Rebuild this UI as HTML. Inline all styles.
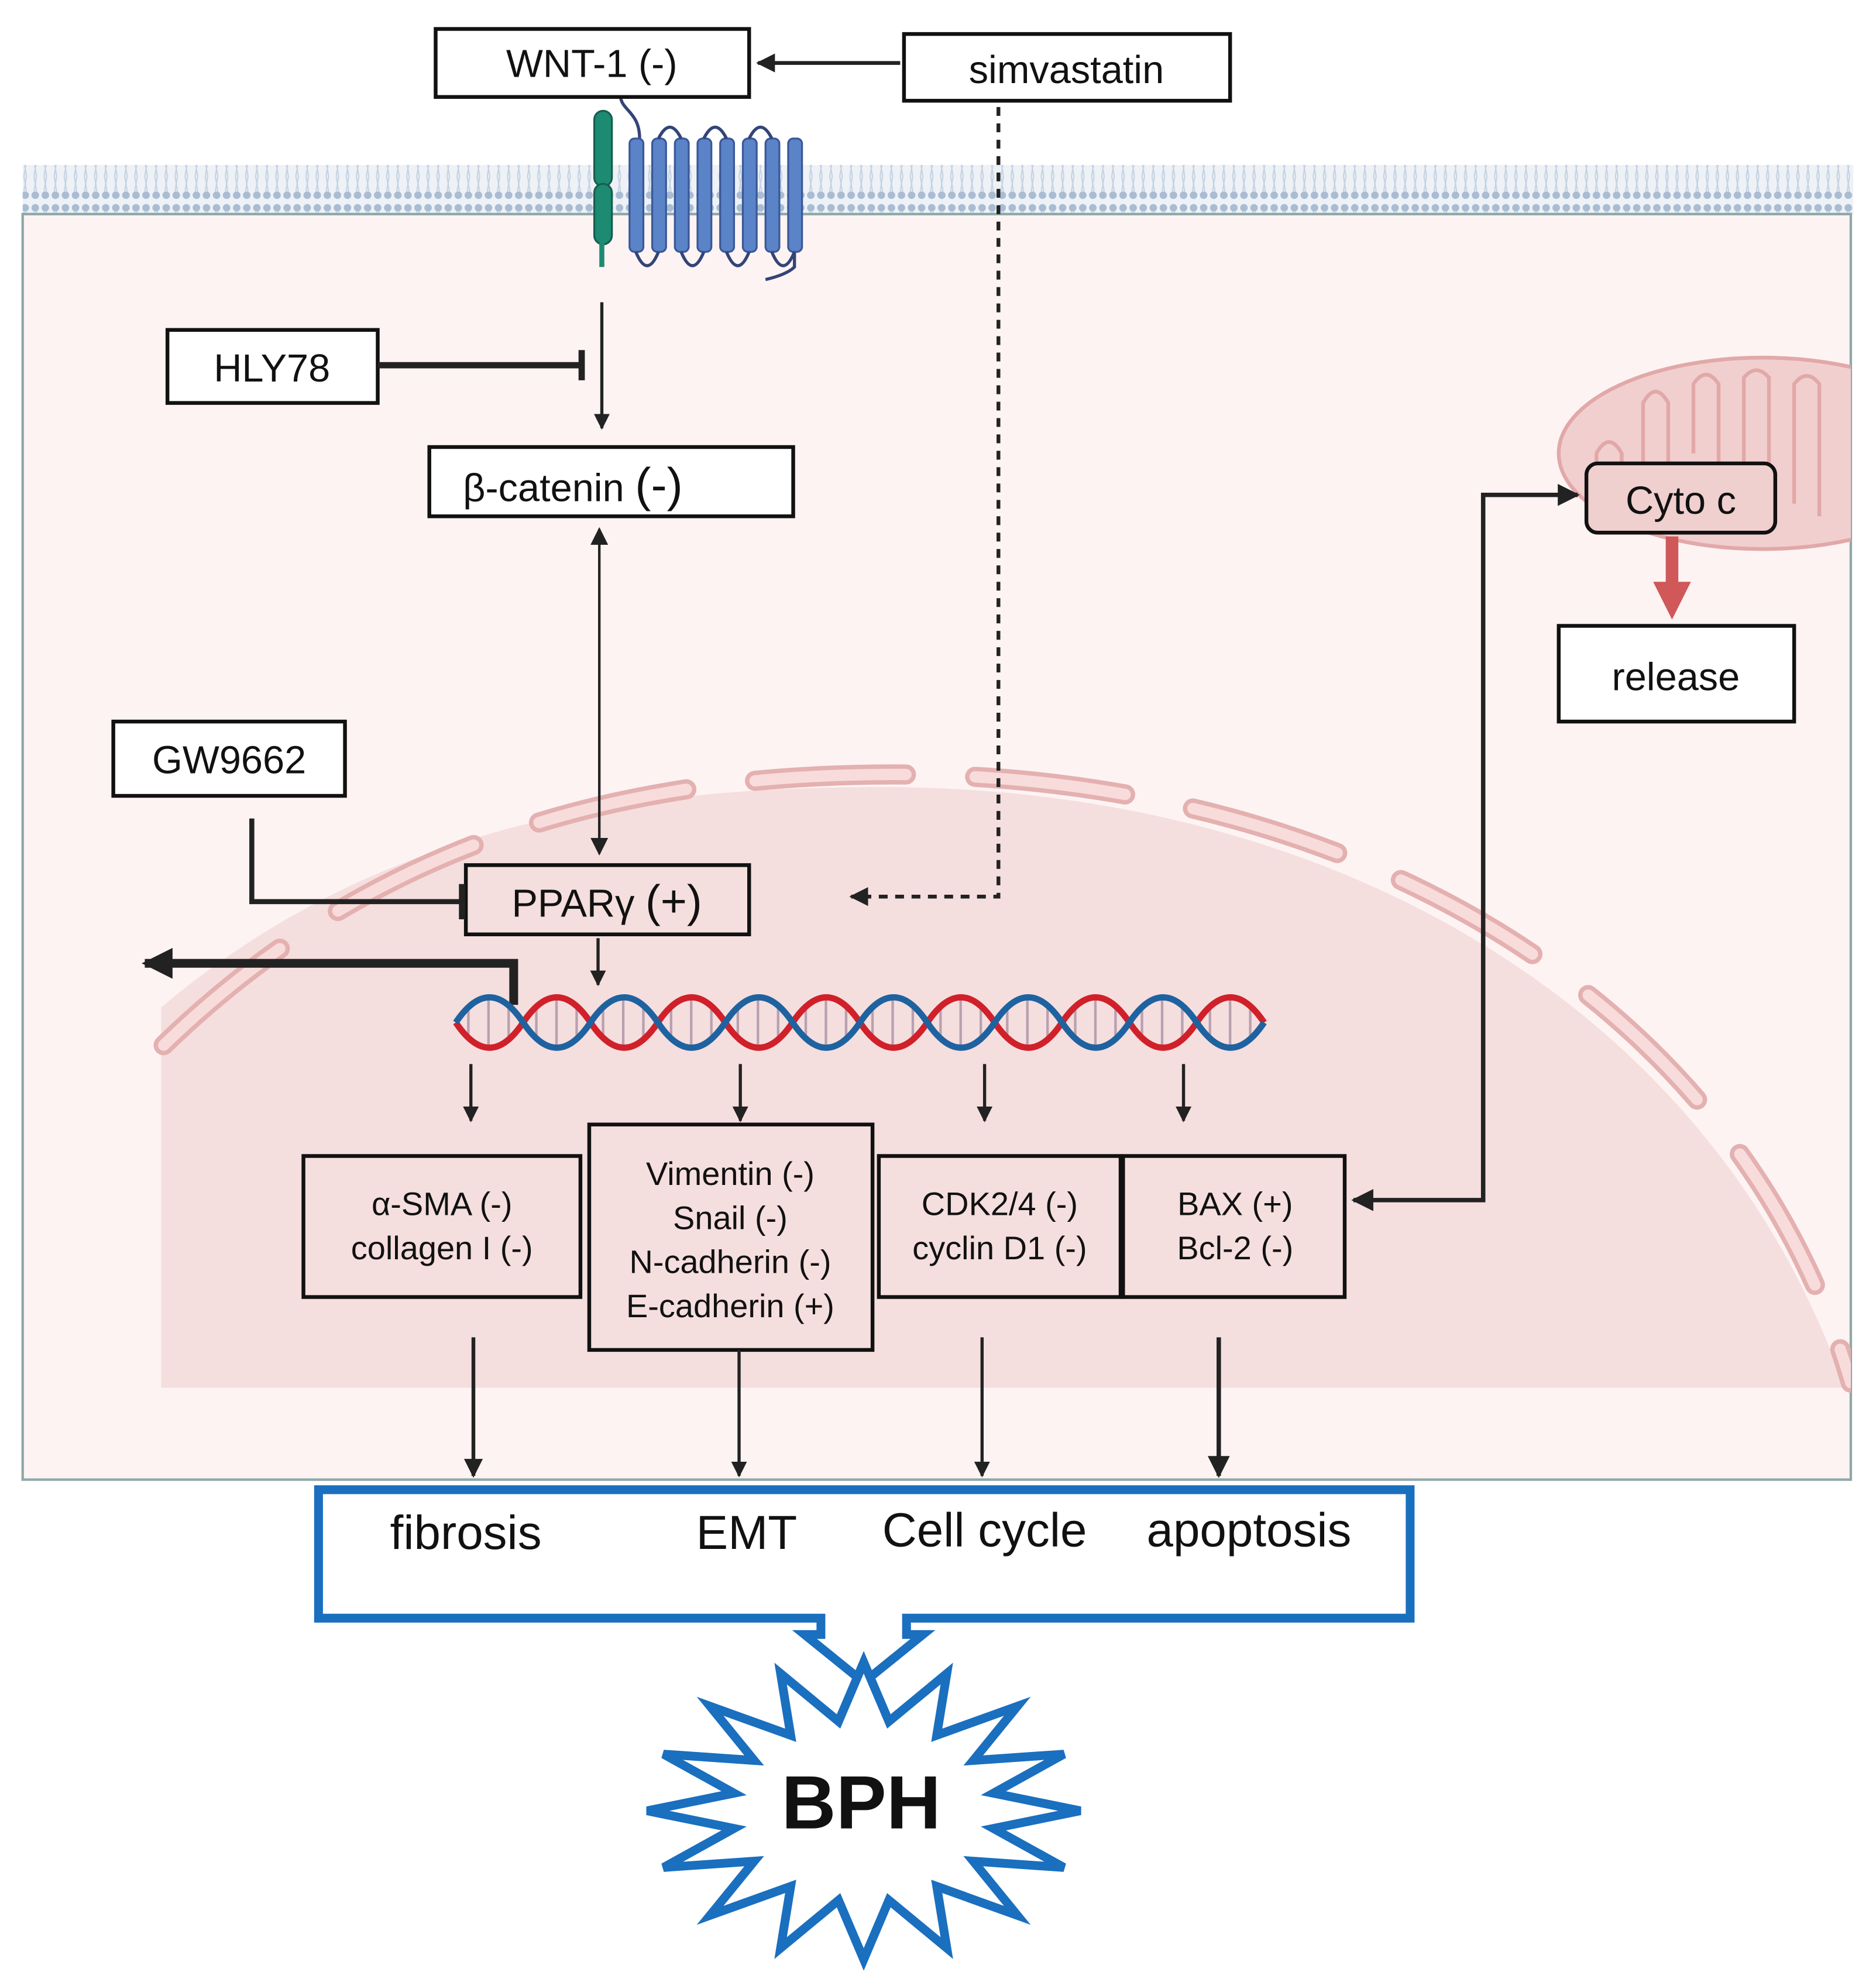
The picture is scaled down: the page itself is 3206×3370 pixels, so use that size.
<!DOCTYPE html>
<html><head><meta charset="utf-8"><style>
html,body{margin:0;padding:0;background:#fff}
svg{display:block}
text{font-family:"Liberation Sans",Arial,sans-serif;fill:#111}
</style></head><body>
<svg width="3206" height="3370" viewBox="0 0 1490 1566" preserveAspectRatio="none" xmlns="http://www.w3.org/2000/svg">
<defs>
<marker id="ah" viewBox="0 0 10 10" refX="9" refY="5" markerWidth="5" markerHeight="5" orient="auto-start-reverse" markerUnits="strokeWidth"><path d="M0,0 L10,5 L0,10 z" fill="#222"/></marker>
<marker id="ahs" viewBox="0 0 10 10" refX="9" refY="5" markerWidth="7" markerHeight="7" orient="auto-start-reverse" markerUnits="strokeWidth"><path d="M0,0 L10,5 L0,10 z" fill="#222"/></marker>
<marker id="ahb" viewBox="0 0 10 10" refX="9" refY="5" markerWidth="3.5" markerHeight="3.5" orient="auto" markerUnits="strokeWidth"><path d="M0,0 L10,5 L0,10 z" fill="#222"/></marker>
<pattern id="mem" width="8" height="40" patternUnits="userSpaceOnUse">
<circle cx="4" cy="5" r="3" fill="#a9bcd2"/>
<circle cx="4" cy="35" r="3" fill="#a9bcd2"/>
<path d="M3,8 L5,20 L3,32 M5,8 L3,20 L5,32" stroke="#c6d3e2" stroke-width="1" fill="none"/>
</pattern>
<clipPath id="cell"><rect x="18" y="170" width="1452" height="1005"/></clipPath>
</defs>

<rect x="18" y="131" width="1454" height="40" fill="#eef2f7"/>
<rect x="18" y="131" width="1454" height="40" fill="url(#mem)"/>
<rect x="18" y="170" width="1452" height="1005" fill="#fdf3f3" stroke="#8fa8a8" stroke-width="2"/>
<g clip-path="url(#cell)">
<path d="M128,1102 L128,800 C300,655 500,625 700,625 C1060,625 1360,800 1465,1102 Z" fill="#f5dede"/>
<path d="M130,830 C300,665 500,615 710,615 C1070,615 1380,790 1470,1098" fill="none" stroke="#e4b0b0" stroke-width="16" stroke-dasharray="120,55" stroke-linecap="round"/>
<path d="M130,830 C300,665 500,615 710,615 C1070,615 1380,790 1470,1098" fill="none" stroke="#f8dcdc" stroke-width="9" stroke-dasharray="120,55" stroke-linecap="round"/>
<ellipse cx="1400" cy="360" rx="162" ry="76" fill="#f2cfcf" stroke="#e2a8a8" stroke-width="3"/>
<path d="M1268,420 L1268,360 Q1278,342 1288,360 L1288,415 M1305,420 L1305,320 Q1315,302 1325,320 L1325,415 M1345,360 L1345,305 Q1355,290 1365,305 L1365,380 M1385,380 L1385,300 Q1395,288 1405,300 L1405,400 M1425,400 L1425,305 Q1435,292 1445,305 L1445,410" stroke="#e2a8a8" stroke-width="3" fill="none"/>
</g>

<g>
<rect x="472" y="88" width="14" height="60" rx="7" fill="#1d8a72" stroke="#155e50" stroke-width="1.5"/>
<rect x="472" y="146" width="14" height="48" rx="7" fill="#1d8a72" stroke="#155e50" stroke-width="1.5"/>
<line x1="478" y1="190" x2="478" y2="212" stroke="#1d8a72" stroke-width="4"/>
<path d="M493,78 C495,88 508,90 508,110" stroke="#334477" stroke-width="2.5" fill="none"/>
<g fill="#5a83c8" stroke="#3a5898" stroke-width="1.5">
<rect x="500" y="110" width="11" height="90" rx="4"/>
<rect x="518" y="110" width="11" height="90" rx="4"/>
<rect x="536" y="110" width="11" height="90" rx="4"/>
<rect x="554" y="110" width="11" height="90" rx="4"/>
<rect x="572" y="110" width="11" height="90" rx="4"/>
<rect x="590" y="110" width="11" height="90" rx="4"/>
<rect x="608" y="110" width="11" height="90" rx="4"/>
<rect x="626" y="110" width="11" height="90" rx="4"/>
</g>
<path d="M505,200 Q514,222 523,200 M541,200 Q550,222 559,200 M577,200 Q586,222 595,200 M613,200 Q622,222 631,200 M523,110 Q532,92 541,110 M559,110 Q568,92 577,110 M595,110 Q604,92 613,110 M631,200 L631,212 Q625,218 608,222" stroke="#334477" stroke-width="2.5" fill="none"/>
</g>

<g fill="#fff" stroke="#111" stroke-width="3">
<rect x="346" y="23" width="249" height="54"/>
<rect x="718" y="27" width="259" height="53"/>
<rect x="133" y="262" width="167" height="58"/>
<rect x="341" y="355" width="289" height="55"/>
<rect x="90" y="573" width="184" height="59"/>
<rect x="1238" y="497" width="187" height="76"/>
</g>
<g fill="#f5dede" stroke="#111" stroke-width="3">
<rect x="370" y="687" width="225" height="55"/>
<rect x="241" y="918" width="220" height="112"/>
<rect x="468" y="893" width="225" height="179"/>
<rect x="698" y="918" width="192" height="112"/>
<rect x="892" y="918" width="176" height="112"/>
</g>
<rect x="1260" y="368" width="150" height="55" rx="9" fill="#f0cfcf" stroke="#111" stroke-width="3"/>

<g font-size="31" text-anchor="middle">
<text x="470" y="61">WNT-1 (-)</text>
<text x="847" y="66">simvastatin</text>
<text x="216" y="303">HLY78</text>
<text x="182" y="614">GW9662</text>
<text x="1331" y="548">release</text>
<text x="1335" y="408">Cyto c</text>
<text x="455" y="398">β-catenin <tspan font-size="38">(-)</tspan></text>
<text x="482" y="728">PPARγ <tspan font-size="36">(+)</tspan></text>
</g>
<g font-size="26" text-anchor="middle">
<text x="351" y="965">α-SMA (-)</text>
<text x="351" y="1000">collagen I (-)</text>
<text x="580" y="941">Vimentin (-)</text>
<text x="580" y="976">Snail (-)</text>
<text x="580" y="1011">N-cadherin  (-)</text>
<text x="580" y="1046">E-cadherin (+)</text>
<text x="794" y="965">CDK2/4  (-)</text>
<text x="794" y="1000">cyclin D1 (-)</text>
<text x="981" y="965">BAX (+)</text>
<text x="981" y="1000">Bcl-2 (-)</text>
</g>

<g stroke="#222" fill="none">
<line x1="715" y1="50" x2="602" y2="50" stroke-width="3" marker-end="url(#ah)"/>
<path d="M793,85 L793,712 L676,712" stroke-width="3" stroke-dasharray="7,6" marker-end="url(#ah)"/>
<line x1="478" y1="240" x2="478" y2="340" stroke-width="2.5" marker-end="url(#ah)"/>
<line x1="300" y1="290" x2="462" y2="290" stroke-width="5"/>
<line x1="462" y1="278" x2="462" y2="302" stroke-width="5"/>
<line x1="476" y1="420" x2="476" y2="678" stroke-width="2" marker-start="url(#ahs)" marker-end="url(#ahs)"/>
<path d="M200,650 L200,716 L365,716" stroke-width="4"/>
<line x1="367" y1="702" x2="367" y2="730" stroke-width="5"/>
<line x1="475" y1="745" x2="475" y2="782" stroke-width="2.5" marker-end="url(#ah)"/>
<path d="M408,798 L408,765 L115,765" stroke-width="7" marker-end="url(#ahb)"/>
<line x1="374" y1="845" x2="374" y2="890" stroke-width="2.5" marker-end="url(#ah)"/>
<line x1="588" y1="845" x2="588" y2="890" stroke-width="2.5" marker-end="url(#ah)"/>
<line x1="782" y1="845" x2="782" y2="890" stroke-width="2.5" marker-end="url(#ah)"/>
<line x1="940" y1="845" x2="940" y2="890" stroke-width="2.5" marker-end="url(#ah)"/>
<line x1="376" y1="1062" x2="376" y2="1172" stroke-width="3" marker-end="url(#ah)"/>
<line x1="587" y1="1072" x2="587" y2="1172" stroke-width="2.5" marker-end="url(#ah)"/>
<line x1="780" y1="1062" x2="780" y2="1172" stroke-width="2.5" marker-end="url(#ah)"/>
<line x1="968" y1="1062" x2="968" y2="1172" stroke-width="3.5" marker-end="url(#ah)"/>
<path d="M1253,393 L1178,393 L1178,953 L1075,953" stroke-width="3.5" marker-start="url(#ah)" marker-end="url(#ah)"/>
</g>
<rect x="1323" y="426" width="10" height="40" fill="#d05858"/>
<path d="M1313,462 L1343,462 L1328,492 Z" fill="#d05858"/>

<g fill="none" stroke-width="5">
<g stroke="#b9a0b0" stroke-width="2">
<path d="M372,800 V824 M388,794 V830 M404,800 V824 M426,800 V824 M442,794 V830 M458,800 V824 M479,800 V824 M495,794 V830 M511,800 V824 M533,800 V824 M549,794 V830 M565,800 V824 M586,800 V824 M602,794 V830 M618,800 V824 M640,800 V824 M656,794 V830 M672,800 V824 M693,800 V824 M709,794 V830 M725,800 V824 M747,800 V824 M763,794 V830 M779,800 V824 M800,800 V824 M816,794 V830 M832,800 V824 M854,800 V824 M870,794 V830 M886,800 V824 M907,800 V824 M923,794 V830 M939,800 V824 M961,800 V824 M977,794 V830 M993,800 V824"/>
</g>
<path stroke="#d0202a" d="M362,812 Q388.75,852 415.5,812 T469,812 T522.5,812 T576,812 T629.5,812 T683,812 T736.5,812 T790,812 T843.5,812 T897,812 T950.5,812 T1004,812"/>
<path stroke="#1f62a0" d="M362,812 Q388.75,772 415.5,812 T469,812 T522.5,812 T576,812 T629.5,812 T683,812 T736.5,812 T790,812 T843.5,812 T897,812 T950.5,812 T1004,812"/>
</g>

<path d="M253,1183 L1120,1183 L1120,1285 L720,1285 L720,1298 L733,1298 L686,1336 L639,1298 L652,1298 L652,1285 L253,1285 Z" fill="#fff" stroke="#1a6fbf" stroke-width="7" stroke-linejoin="miter"/>
<g font-size="38" text-anchor="middle">
<text x="370" y="1230">fibrosis</text>
<text x="593" y="1230">EMT</text>
<text x="782" y="1228">Cell cycle</text>
<text x="992" y="1228">apoptosis</text>
</g>

<polygon points="858,1438 789,1452 845,1483 773,1478 808,1521 744,1498 752,1547 706,1509 686,1556 666,1509 620,1547 628,1498 564,1521 599,1478 527,1483 583,1452 514,1438 583,1424 527,1393 599,1398 564,1355 628,1378 620,1329 666,1367 686,1320 706,1367 752,1329 744,1378 808,1355 773,1398 845,1393 789,1424" fill="#fff" stroke="#1a6fbf" stroke-width="7" stroke-linejoin="miter"/>
<text x="684" y="1452" font-size="60" font-weight="bold" text-anchor="middle">BPH</text>
</svg>
</body></html>
